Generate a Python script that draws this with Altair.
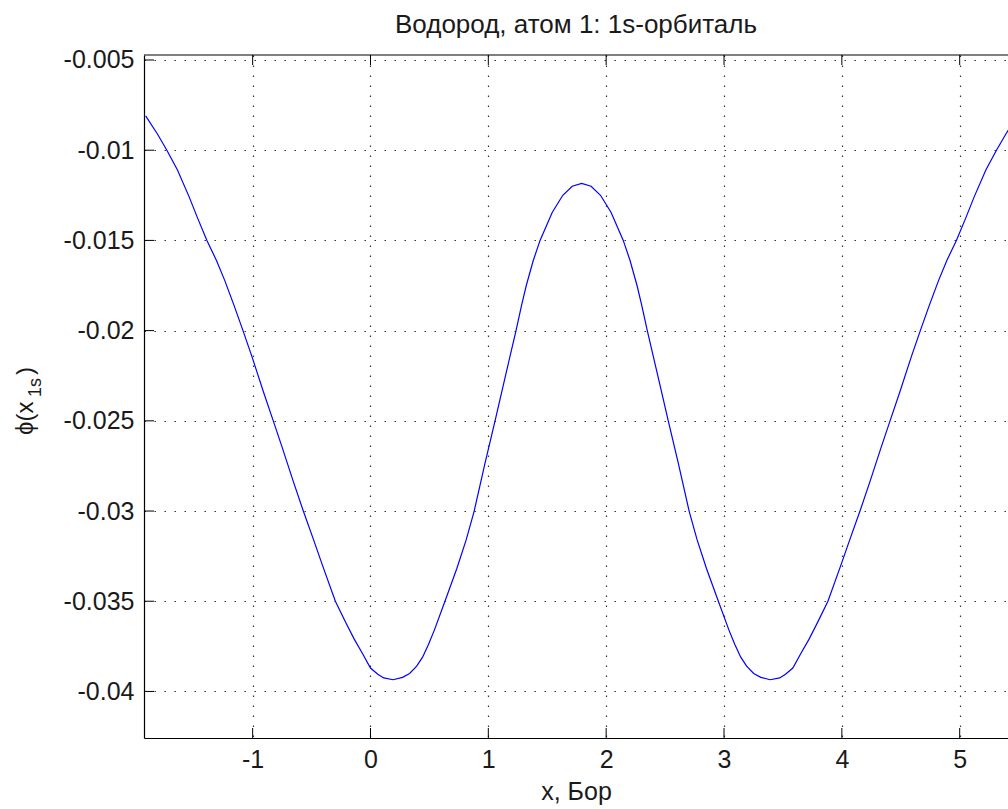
import altair as alt
import pandas as pd

# curve (left half, then right half)
xs = [-1.908, -1.808, -1.728, -1.638, -1.538, -1.468, -1.388, -1.308, -1.238, -1.158,
      -1.082, -1.008, -0.908, -0.825, -0.748, -0.658, -0.570, -0.488, -0.408, -0.298,
      -0.208, -0.138, -0.068, 0.0, 0.062, 0.112, 0.192, 0.272, 0.332, 0.392,
      0.442, 0.492, 0.542, 0.632, 0.732, 0.812, 0.880, 0.972, 1.057, 1.142,
      1.235, 1.282, 1.322, 1.382, 1.439, 1.542, 1.632, 1.712, 1.792,
      1.872, 1.952, 2.042, 2.145, 2.202, 2.262, 2.302, 2.349, 2.442, 2.527,
      2.612, 2.704, 2.772, 2.852, 2.952, 3.042, 3.092, 3.142, 3.192, 3.252,
      3.312, 3.392, 3.472, 3.522, 3.584, 3.652, 3.722, 3.792, 3.882, 3.992,
      4.072, 4.154, 4.242, 4.332, 4.409, 4.492, 4.592, 4.666, 4.742, 4.822,
      4.892, 4.972, 5.052, 5.122, 5.222, 5.312, 5.392, 5.492]
ys = [-0.0081, -0.0091, -0.0100, -0.0111, -0.0126, -0.01375, -0.0150, -0.0161, -0.0172, -0.0186,
      -0.0200, -0.0214, -0.0234, -0.0250, -0.0265, -0.0283, -0.0300, -0.0315, -0.0330, -0.0350,
      -0.0362, -0.0371, -0.0379, -0.0387, -0.03905, -0.03925, -0.03935, -0.03922, -0.0390, -0.0386,
      -0.0381, -0.0374, -0.0366, -0.0350, -0.0332, -0.0316, -0.0300, -0.02735, -0.0250, -0.0226,
      -0.0200, -0.0186, -0.0175, -0.0161, -0.0150, -0.01345, -0.0125, -0.0120, -0.01184,
      -0.0120, -0.0125, -0.01345, -0.0150, -0.0161, -0.0175, -0.0186, -0.0200, -0.0226, -0.0250,
      -0.02735, -0.0300, -0.0316, -0.0332, -0.0350, -0.0366, -0.0374, -0.0381, -0.0386, -0.0390,
      -0.03922, -0.03935, -0.03925, -0.03905, -0.0387, -0.0379, -0.0371, -0.0362, -0.0350, -0.0330,
      -0.0315, -0.0300, -0.0283, -0.0265, -0.0250, -0.0234, -0.0214, -0.0200, -0.0186, -0.0172,
      -0.0161, -0.0150, -0.01375, -0.0126, -0.0111, -0.0100, -0.0091, -0.0081]

x_ticks = [-1, 0, 1, 2, 3, 4, 5]
y_ticks = [-0.04, -0.035, -0.03, -0.025, -0.02, -0.015, -0.01, -0.005]

title_text = "Водород, атом 1: 1s-орбиталь"
x_title = "x, Бор"

X_DOMAIN = [-1.922, 5.41]
Y_DOMAIN = [-0.04258, -0.004723]
W, H = 864, 683
FONT = "Liberation Sans"
TXT = "#1a1a1a"

curve = pd.DataFrame({"x": xs, "y": ys})
xt = pd.DataFrame({"x": x_ticks})
yt = pd.DataFrame({"y": y_ticks})
one = pd.DataFrame({"t": [title_text]})

xscale = alt.Scale(domain=X_DOMAIN, nice=False, zero=False)
yscale = alt.Scale(domain=Y_DOMAIN, nice=False, zero=False)

line = alt.Chart(curve).mark_line(color="#0000ff", strokeWidth=1.2, clip=True).encode(
    x=alt.X("x:Q", scale=xscale,
            axis=alt.Axis(values=x_ticks, title=x_title, labelExpr="'' + datum.value",
                          ticks=False, labelPadding=9, titleBaseline="alphabetic",
                          titleY=61, titleFontSize=25, titleFontWeight="normal")),
    y=alt.Y("y:Q", scale=yscale,
            axis=alt.Axis(values=y_ticks, title=None, labelExpr="'' + datum.value",
                          ticks=False, labelPadding=10)),
)

bt = alt.Chart(xt).mark_rule(color="black", strokeWidth=1).encode(
    x=alt.X("x:Q", scale=xscale), y=alt.value(H), y2=alt.value(H - 10))
tt = alt.Chart(xt).mark_rule(color="black", strokeWidth=1).encode(
    x=alt.X("x:Q", scale=xscale), y=alt.value(0), y2=alt.value(10))
lt = alt.Chart(yt).mark_rule(color="black", strokeWidth=1).encode(
    y=alt.Y("y:Q", scale=yscale), x=alt.value(0), x2=alt.value(10))
top = alt.Chart(one).mark_rule(color="black", strokeWidth=1.2).encode(
    x=alt.value(0), x2=alt.value(W), y=alt.value(0))

title = alt.Chart(one).mark_text(align="center", baseline="alphabetic", font=FONT,
                                 fontSize=26, color=TXT).encode(
    text="t:N", x=alt.value(W / 2), y=alt.value(-22))

ylab1 = alt.Chart(one).mark_text(text="ϕ(x", angle=270, align="left", baseline="alphabetic",
                                 font=FONT, fontSize=24, color=TXT).encode(
    x=alt.value(-111), y=alt.value(380))
ylab2 = alt.Chart(one).mark_text(text="1s", angle=270, align="left", baseline="alphabetic",
                                 font=FONT, fontSize=18, color=TXT).encode(
    x=alt.value(-103), y=alt.value(342))
ylab3 = alt.Chart(one).mark_text(text=")", angle=270, align="left", baseline="alphabetic",
                                 font=FONT, fontSize=24, color=TXT).encode(
    x=alt.value(-111), y=alt.value(320))

chart = alt.layer(line, bt, tt, lt, top, title, ylab1, ylab2, ylab3).properties(
    width=W, height=H,
    background="white",
    autosize=alt.AutoSizeParams(type="none"),
    padding={"left": 144, "top": 55, "right": 0, "bottom": 71},
).configure_view(stroke=None).configure_axis(
    domainColor="black", domainWidth=1.2, labelFont=FONT, labelFontSize=25, labelColor=TXT,
    titleFont=FONT, titleColor=TXT, grid=True, gridColor="#333333", gridWidth=1.2,
    gridDash=[1.5, 8.5], gridOpacity=1,
)

chart.save("out.html", embed_options={"renderer": "svg", "actions": False})
